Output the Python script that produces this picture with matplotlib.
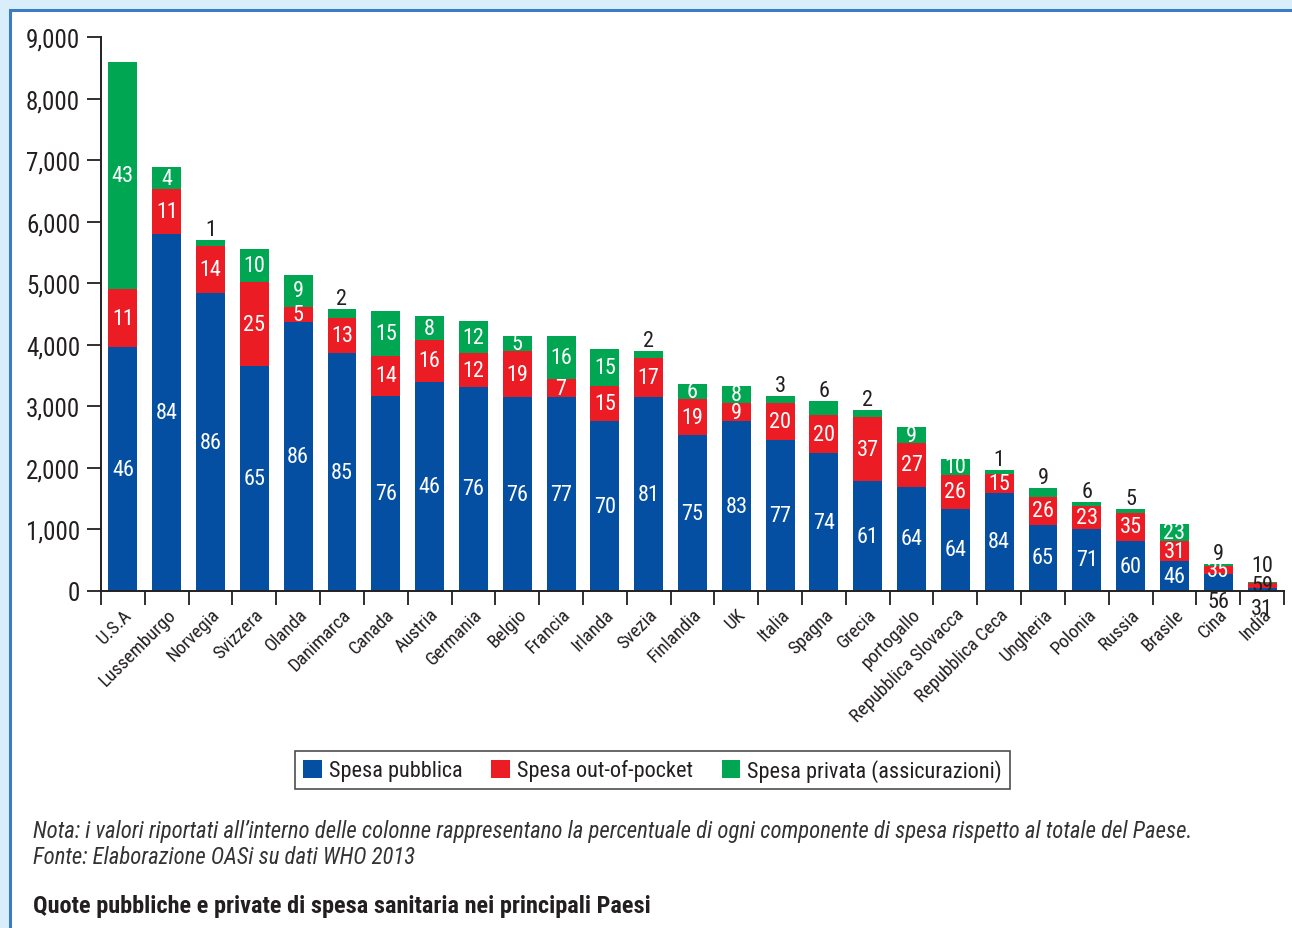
import numpy as np
import matplotlib
matplotlib.use("Agg")
import matplotlib.pyplot as plt
from matplotlib import font_manager
from matplotlib.patches import Rectangle


# ------------------------------------------------------------
# Data: spesa sanitaria pro capite (USD) per componente
# ------------------------------------------------------------

paesi = [
    "U.S.A", "Lussemburgo", "Norvegia", "Svizzera", "Olanda", "Danimarca",
    "Canada", "Austria", "Germania", "Belgio", "Francia", "Irlanda", "Svezia",
    "Finlandia", "UK", "Italia", "Spagna", "Grecia", "portogallo",
    "Repubblica Slovacca", "Repubblica Ceca", "Ungheria", "Polonia", "Russia",
    "Brasile", "Cina", "India",
]

spesa_pubblica = [3960, 5800, 4840, 3655, 4375, 3860, 3175, 3400, 3315, 3150,
                  3150, 2760, 3150, 2530, 2760, 2445, 2240, 1785, 1690, 1340,
                  1600, 1080, 1015, 805, 480, 270, 48]
spesa_oop = [940, 725, 770, 1360, 245, 580, 650, 680, 550, 745,
             290, 565, 630, 590, 290, 610, 620, 1040, 715, 550,
             295, 455, 360, 470, 325, 130, 90]
spesa_privata = [3700, 360, 90, 535, 515, 140, 720, 385, 515, 245,
                 700, 600, 115, 240, 275, 110, 220, 110, 255, 250,
                 65, 145, 65, 50, 290, 45, 15]

# percentuali riportate sulle colonne
pct_pubblica = [46, 84, 86, 65, 86, 85, 76, 46, 76, 76, 77, 70, 81, 75, 83,
                77, 74, 61, 64, 64, 84, 65, 71, 60, 46, 56, 31]
pct_oop = [11, 11, 14, 25, 5, 13, 14, 16, 12, 19, 7, 15, 17, 19, 9,
           20, 20, 37, 27, 26, 15, 26, 23, 35, 31, 35, 59]
pct_privata = [43, 4, 1, 10, 9, 2, 15, 8, 12, 5, 16, 15, 2, 6, 8,
               3, 6, 2, 9, 10, 1, 9, 6, 5, 23, 9, 10]

# etichette della quota privata scritte sopra la colonna
privata_sopra = {"Norvegia", "Danimarca", "Svezia", "Italia", "Spagna", "Grecia",
                 "Repubblica Ceca", "Ungheria", "Polonia", "Russia", "Cina", "India"}

y_ticks = [0, 1000, 2000, 3000, 4000, 5000, 6000, 7000, 8000, 9000]


# ------------------------------------------------------------
# Style
# ------------------------------------------------------------

available = {f.name for f in font_manager.fontManager.ttflist}
font_main = "DejaVu Sans"
for nome in ("Roboto Condensed", "Liberation Sans Narrow", "Open Sans Condensed",
             "Roboto", "Liberation Sans"):
    if nome in available:
        font_main = nome
        break

plt.rcParams.update({
    "font.family": font_main,
    "axes.linewidth": 1.4,
})

blu = "#054fa3"
rosso = "#ec1c24"
verde = "#00a651"
testo = "#231f20"
sfondo = "#d8eefa"
bordo = "#3d7cc4"

fig = plt.figure(figsize=(12.92, 9.29), dpi=100)
fig.patch.set_facecolor(sfondo)

# pannello bianco con bordo blu, dietro al grafico
fig.patches.append(Rectangle((10 / 1292, -0.1), 1.2, 1 - 11 / 929 + 0.1,
                             transform=fig.transFigure, facecolor="white",
                             edgecolor=bordo, linewidth=2.2, zorder=-10))

ax = fig.add_axes([101 / 1292, 1 - 592 / 929, (1284 - 101) / 1292, (592 - 38) / 929])
ax.set_facecolor("none")
ax.set_zorder(5)

x = np.arange(len(paesi))
pub = np.array(spesa_pubblica, dtype=float)
oop = np.array(spesa_oop, dtype=float)
priv = np.array(spesa_privata, dtype=float)

larghezza = 0.66
ax.bar(x, pub, larghezza, color=blu, label="Spesa pubblica", zorder=2)
ax.bar(x, oop, larghezza, bottom=pub, color=rosso, label="Spesa out-of-pocket", zorder=2)
ax.bar(x, priv, larghezza, bottom=pub + oop, color=verde,
       label="Spesa privata (assicurazioni)", zorder=2)

fs_lab = 16
for i, paese in enumerate(paesi):
    # quota pubblica
    if paese in ("Cina", "India"):
        ax.annotate(str(pct_pubblica[i]), (x[i], 0), xytext=(0, 0 if paese == "Cina" else -5),
                    textcoords="offset points", ha="center", va="top",
                    fontsize=fs_lab, color=testo, zorder=3, annotation_clip=False)
    else:
        ax.text(x[i], pub[i] / 2, str(pct_pubblica[i]), ha="center", va="center",
                fontsize=fs_lab, color="white", zorder=3)
    # quota out-of-pocket
    ax.text(x[i], pub[i] + oop[i] / 2, str(pct_oop[i]), ha="center", va="center",
            fontsize=fs_lab, color=testo if paese == "India" else "white", zorder=3)
    # quota privata
    top = pub[i] + oop[i] + priv[i]
    if paese in privata_sopra:
        ax.annotate(str(pct_privata[i]), (x[i], top), xytext=(0, 0 if paese != "India" else 4),
                    textcoords="offset points", ha="center", va="bottom",
                    fontsize=fs_lab, color=testo, zorder=3)
    else:
        ax.text(x[i], pub[i] + oop[i] + priv[i] / 2, str(pct_privata[i]),
                ha="center", va="center", fontsize=fs_lab, color="white", zorder=3)

ax.set_xlim(-0.5, len(paesi) - 0.5)
ax.set_ylim(0, 9000)
ax.set_yticks(y_ticks)
ax.set_yticklabels([f"{v:,}" for v in y_ticks])
ax.tick_params(axis="y", length=10, width=1.3, pad=5, labelsize=18, colors=testo)

ax.set_xticks(x)
ax.set_xticklabels(paesi, rotation=45, ha="right", rotation_mode="anchor")
ax.set_xticks(np.arange(len(paesi) + 1) - 0.5, minor=True)
ax.tick_params(axis="x", which="major", length=0, pad=10, labelsize=13.5, colors=testo)
ax.tick_params(axis="x", which="minor", length=10, width=1.3, color=testo)

for lato in ("top", "right"):
    ax.spines[lato].set_visible(False)
for lato in ("left", "bottom"):
    ax.spines[lato].set_color(testo)

leg = fig.legend(loc="center", bbox_to_anchor=(0.505, 0.170), ncol=3,
                 fontsize=16, frameon=True, fancybox=False, edgecolor=testo,
                 handlelength=0.85, handleheight=0.85, handletextpad=0.3,
                 columnspacing=1.3, borderpad=0.35, borderaxespad=0.0)
leg.get_frame().set_linewidth(1.2)
for t in leg.get_texts():
    t.set_color(testo)

fig.text(33 / 1292, 1 - 832 / 929,
         "Nota: i valori riportati all\u2019interno delle colonne rappresentano la percentuale "
         "di ogni componente di spesa rispetto al totale del Paese.",
         ha="left", va="center", fontsize=16.4, style="italic", color="#333333")
fig.text(33 / 1292, 1 - 858 / 929, "Fonte: Elaborazione OASi su dati WHO 2013",
         ha="left", va="center", fontsize=16.4, style="italic", color="#333333")
fig.text(33 / 1292, 1 - 907 / 929,
         "Quote pubbliche e private di spesa sanitaria nei principali Paesi",
         ha="left", va="center", fontsize=17.5, fontweight="bold", color=testo)

fig.savefig("out.png", dpi=100, facecolor=fig.get_facecolor())
